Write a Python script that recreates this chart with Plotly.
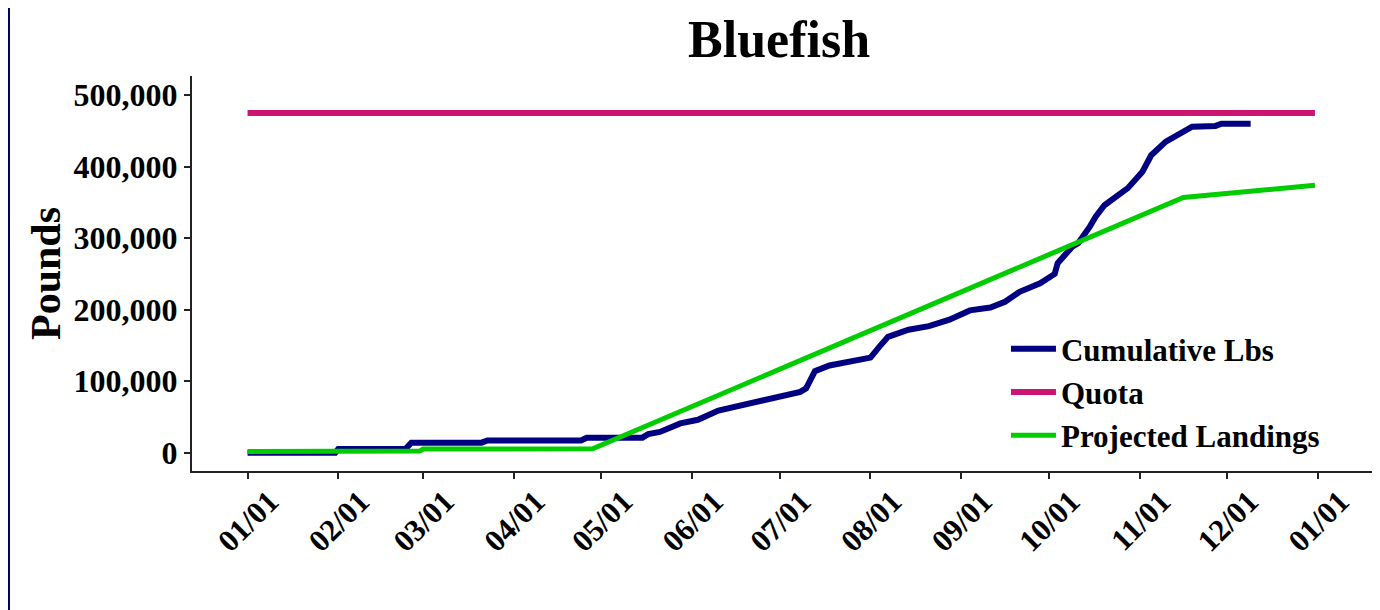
import plotly.graph_objects as go

# 누적 어획량 (파운드)
cum_dates = [
    "2024-01-01", "2024-01-31", "2024-02-01", "2024-02-24", "2024-02-26",
    "2024-03-21", "2024-03-23", "2024-04-24", "2024-04-26", "2024-05-15",
    "2024-05-17", "2024-05-21", "2024-05-28", "2024-06-03", "2024-06-10",
    "2024-06-17", "2024-06-24", "2024-07-01", "2024-07-08", "2024-07-10",
    "2024-07-13", "2024-07-18", "2024-07-25", "2024-08-01", "2024-08-04",
    "2024-08-07", "2024-08-14", "2024-08-21", "2024-08-28", "2024-09-04",
    "2024-09-11", "2024-09-16", "2024-09-21", "2024-09-28", "2024-10-03",
    "2024-10-04", "2024-10-09", "2024-10-11", "2024-10-15", "2024-10-17",
    "2024-10-20", "2024-10-23", "2024-10-28", "2024-11-02", "2024-11-05",
    "2024-11-10", "2024-11-15", "2024-11-19", "2024-11-27", "2024-11-29",
    "2024-12-09",
]
cum_lbs = [
    0, 0, 5000, 5000, 14000,
    14000, 17000, 17000, 21000, 21000,
    26000, 29000, 41000, 46000, 59000,
    66000, 71000, 78000, 85000, 90000,
    114000, 122000, 127000, 133000, 148000,
    162000, 172000, 177000, 186000, 199000,
    203000, 211000, 225000, 237000, 250000,
    265000, 288000, 293000, 316000, 330000,
    346000, 356000, 370000, 393000, 416000,
    435000, 447000, 456000, 457000, 460000,
    460000,
]

quota_dates = ["2024-01-01", "2024-12-31"]
quota_lbs = [475000, 475000]

proj_dates = ["2024-01-01", "2024-01-31", "2024-02-01", "2024-02-29",
              "2024-03-01", "2024-04-28", "2024-11-16", "2024-12-31"]
proj_lbs = [1500, 1500, 2500, 2500, 5000, 5500, 357000, 374000]

FONT = "Liberation Serif"
NAVY = "#000066"

fig = go.Figure()
fig.add_trace(go.Scatter(x=cum_dates, y=cum_lbs, mode="lines", name="Cumulative Lbs",
                         line=dict(color="#000080", width=6)))
fig.add_trace(go.Scatter(x=quota_dates, y=quota_lbs, mode="lines", name="Quota",
                         line=dict(color="#CC1475", width=6)))
fig.add_trace(go.Scatter(x=proj_dates, y=proj_lbs, mode="lines", name="Projected Landings",
                         line=dict(color="#00CC00", width=5)))

# 왼쪽 남색 테두리 (페이지 여백 8px 때문에 일부만 보임)
fig.add_shape(type="rect", xref="paper", yref="paper",
              x0=-0.16, x1=-0.15424, y0=-0.5, y1=1.3,
              fillcolor=NAVY, line=dict(width=0), layer="below")

fig.update_layout(
    width=1380, height=610,
    margin=dict(l=184, r=16, t=68, b=147),
    paper_bgcolor="white", plot_bgcolor="white",
    font=dict(family=FONT, color="black", weight="bold"),
    title=dict(text="Bluefish", x=0.4975, xanchor="center", xref="paper",
               y=0.95, yanchor="middle",
               font=dict(family=FONT, size=52, weight="bold")),
    showlegend=True,
    legend=dict(x=0.6898, xanchor="left", y=0.2, yanchor="middle",
                bgcolor="rgba(0,0,0,0)", itemwidth=45,
                font=dict(family=FONT, size=31, weight="bold")),
)
fig.update_xaxes(
    type="date", range=["2023-12-13", "2025-01-19 12:00"],
    tick0="2024-01-01", dtick="M1", tickformat="%m/%d", tickangle=-45,
    ticklabelshift=22, ticklabelstandoff=-8,
    showgrid=False, zeroline=False, showline=True, linecolor="#222", linewidth=2,
    ticks="outside", ticklen=6, tickwidth=2, tickcolor="#222",
    tickfont=dict(family=FONT, size=31, weight="bold"),
)
fig.update_yaxes(
    range=[-25600, 526800], dtick=100000, tickformat=",d",
    showgrid=False, zeroline=False, showline=True, linecolor="#222", linewidth=2,
    ticks="outside", ticklen=6, tickwidth=2, tickcolor="#222",
    tickfont=dict(family=FONT, size=32, weight="bold"),
    title=dict(text="Pounds", standoff=0, font=dict(family=FONT, size=42, weight="bold")),
)

fig.write_html("out.html")
